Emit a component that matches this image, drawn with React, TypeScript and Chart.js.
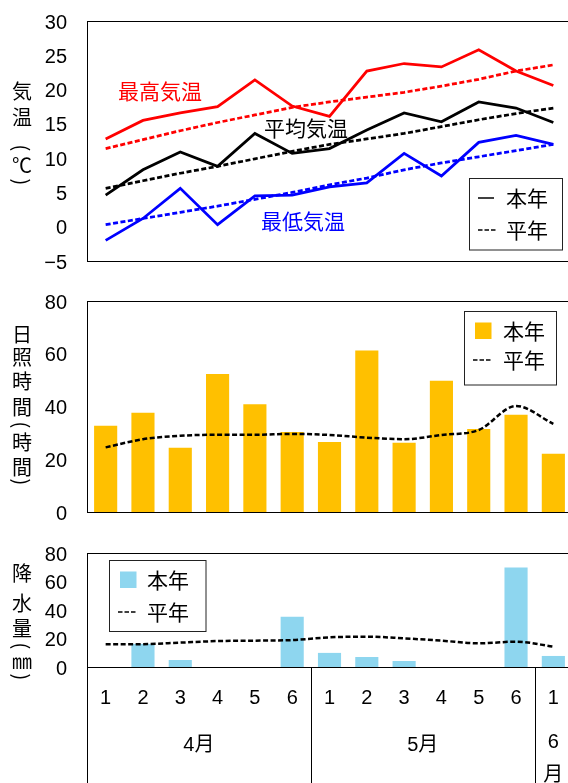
import React, { useEffect, useRef } from 'react';
import { Chart, registerables } from 'chart.js';
Chart.register(...registerables);

// ---------- data ----------
const categories = ['1', '2', '3', '4', '5', '6', '1', '2', '3', '4', '5', '6', '1'];
const months = ['4月', '5月', '6月'];
const monthSpans = [6, 6, 1];
const legendLabels = ['本年', '平年'];
const seriesLabels = ['最高気温', '平均気温', '最低気温'];
const tempTitle = ['気', '温', '(', '℃', ')'];
const sunTitle = ['日', '照', '時', '間', '(', '時', '間', ')'];
const rainTitle = ['降', '水', '量', '(', '㎜', ')'];

const maxTemp = [12.8, 15.5, 16.6, 17.5, 21.4, 17.6, 16.1, 22.7, 23.8, 23.3, 25.8, 22.7, 20.6];
const maxNormal = [11.4, 12.7, 14.0, 15.2, 16.3, 17.4, 18.2, 18.9, 19.6, 20.5, 21.5, 22.7, 23.6];
const meanTemp = [4.6, 8.3, 10.9, 8.8, 13.6, 10.7, 11.4, 14.1, 16.6, 15.3, 18.2, 17.3, 15.2];
const meanNormal = [5.6, 6.7, 7.8, 8.8, 9.9, 11.0, 12.0, 12.8, 13.6, 14.6, 15.6, 16.5, 17.3];
const minTemp = [-2.0, 1.2, 5.6, 0.3, 4.5, 4.6, 5.8, 6.4, 10.7, 7.4, 12.3, 13.3, 12.0];
const minNormal = [0.3, 1.2, 2.1, 3.0, 4.0, 5.0, 6.1, 7.1, 8.3, 9.3, 10.2, 11.1, 12.0];

const sunshine = [32.7, 37.6, 24.4, 52.3, 40.9, 30.3, 26.5, 61.2, 26.3, 49.8, 31.5, 36.9, 22.1];
const sunNormal = [24.5, 27.6, 28.9, 29.3, 29.3, 29.6, 29.2, 28.2, 27.6, 29.2, 31.1, 40.2, 33.4];

const precip = [0, 16.2, 4.9, 0, 0, 35.2, 9.9, 7.0, 4.2, 0, 0, 69.8, 7.75];
const precipNormal = [15.9, 16.0, 17.1, 18.2, 18.5, 18.9, 20.8, 21.3, 20.1, 18.5, 16.6, 17.8, 14.3];

// ---------- styling ----------
const CW = 572;
const AXIS_W = 87;
const DIGIT_FONT = "'Liberation Sans', 'Noto Sans CJK JP', sans-serif";
const CJK_FONT = "'Noto Sans CJK JP', sans-serif";
const GOLD = '#FFC000';
const SKY = '#8ED6EF';

type Row = { kind: 'line' | 'dash' | 'square'; y: number; sx: number; color?: string };
type Deco = {
  top: number;
  titleY: number[];
  title: string[];
  legend: { x: number; y: number; w: number; h: number; tx: number; rows: Row[] };
  texts?: { t: string; x: number; y: number; c: string }[];
  xaxis?: boolean;
};

function makeDeco(d: Deco) {
  return {
    id: 'deco',
    afterDatasetsDraw(chart: any) {
      const ctx: CanvasRenderingContext2D = chart.ctx;
      const a = chart.chartArea;
      const off = d.top;
      ctx.save();
      // frame
      ctx.strokeStyle = '#000';
      ctx.lineWidth = 1;
      ctx.setLineDash([]);
      ctx.strokeRect(Math.round(a.left) + 0.5, Math.round(a.top) + 0.5, Math.round(a.right - a.left), Math.round(a.bottom - a.top));
      // vertical title
      ctx.fillStyle = '#000';
      ctx.font = `20px ${CJK_FONT}`;
      ctx.textAlign = 'center';
      ctx.textBaseline = 'middle';
      d.title.forEach((ch, i) => {
        const y = d.titleY[i] - off;
        if (ch === '(' || ch === ')') {
          ctx.save();
          ctx.translate(22, y);
          ctx.rotate(Math.PI / 2);
          ctx.fillText(ch, 0, 0);
          ctx.restore();
        } else {
          ctx.fillText(ch, 22, y);
        }
      });
      // series labels
      if (d.texts) {
        ctx.font = `21px ${CJK_FONT}`;
        d.texts.forEach((t) => {
          ctx.fillStyle = t.c;
          ctx.fillText(t.t, t.x, t.y - off);
        });
      }
      // legend
      const L = d.legend;
      ctx.fillStyle = '#fff';
      ctx.fillRect(L.x, L.y - off, L.w, L.h);
      ctx.strokeStyle = '#222';
      ctx.lineWidth = 1;
      ctx.strokeRect(L.x, L.y - off, L.w, L.h);
      L.rows.forEach((r, i) => {
        const y = r.y - off;
        if (r.kind === 'square') {
          ctx.fillStyle = r.color || '#000';
          ctx.fillRect(r.sx, y - 8.5, 16.5, 16.5);
        } else if (r.kind === 'line') {
          ctx.strokeStyle = '#000';
          ctx.lineWidth = 1.5;
          ctx.beginPath();
          ctx.moveTo(r.sx, y);
          ctx.lineTo(r.sx + 16, y);
          ctx.stroke();
        } else {
          ctx.strokeStyle = '#000';
          ctx.lineWidth = 1.5;
          for (let k = 0; k < 3; k++) {
            ctx.beginPath();
            ctx.moveTo(r.sx + k * 6.5, y);
            ctx.lineTo(r.sx + k * 6.5 + 4.5, y);
            ctx.stroke();
          }
        }
        ctx.fillStyle = '#000';
        ctx.font = `21px ${CJK_FONT}`;
        ctx.textAlign = 'left';
        ctx.fillText(legendLabels[i], L.tx, y);
      });
      // category axis
      if (d.xaxis) {
        const xs = chart.scales.x;
        const half = (xs.getPixelForValue(1) - xs.getPixelForValue(0)) / 2;
        const bottom = chart.height;
        ctx.textAlign = 'center';
        ctx.fillStyle = '#000';
        ctx.font = `20px ${DIGIT_FONT}`;
        categories.forEach((c, i) => ctx.fillText(c, xs.getPixelForValue(i), 698 - off));
        ctx.strokeStyle = '#000';
        ctx.lineWidth = 1;
        const vline = (x: number) => {
          const px = Math.round(x) + 0.5;
          ctx.beginPath();
          ctx.moveTo(px, a.bottom);
          ctx.lineTo(px, bottom);
          ctx.stroke();
        };
        vline(a.left);
        let idx = 0;
        months.forEach((m, k) => {
          const s = idx;
          const e = idx + monthSpans[k] - 1;
          const xl = xs.getPixelForValue(s) - half;
          const xr = xs.getPixelForValue(e) + half;
          vline(xr);
          ctx.font = `20px ${DIGIT_FONT}`;
          if (monthSpans[k] > 1) {
            ctx.fillText(m, (xl + xr) / 2, 745 - off);
          } else {
            const chars = Array.from(m);
            chars.forEach((ch, j) => ctx.fillText(ch, (xl + xr) / 2, 742 - off + j * 33));
          }
          idx += monthSpans[k];
        });
      }
      ctx.restore();
    },
  };
}

function yAxis(min: number, max: number, step: number) {
  return {
    min,
    max,
    grid: { display: false, drawTicks: false },
    border: { display: false },
    ticks: {
      stepSize: step,
      padding: 20,
      labelOffset: 2,
      color: '#000',
      font: { family: DIGIT_FONT, size: 20 },
      callback: (v: any) => String(v).replace('-', '−'),
    },
    afterFit(s: any) {
      s.width = AXIS_W;
      s.paddingTop = 0;
      s.paddingBottom = 0;
    },
  };
}

const baseOpts = (pad: { top: number; bottom: number }) => ({
  animation: false as const,
  responsive: false,
  maintainAspectRatio: false,
  layout: { padding: { top: pad.top, bottom: pad.bottom, left: 0, right: 0 } },
  plugins: { legend: { display: false }, tooltip: { enabled: false } },
  elements: { point: { radius: 0 } },
});

export default function App() {
  const r1 = useRef<HTMLCanvasElement>(null);
  const r2 = useRef<HTMLCanvasElement>(null);
  const r3 = useRef<HTMLCanvasElement>(null);

  useEffect(() => {
    const line = (data: number[], color: string, dashed: boolean) => ({
      data,
      borderColor: color,
      borderWidth: 2.75,
      borderDash: dashed ? [5, 2.5] : [],
      pointRadius: 0,
      tension: 0,
      fill: false,
    });

    const c1 = new Chart(r1.current!, {
      type: 'line',
      data: {
        labels: categories,
        datasets: [
          line(maxNormal, '#FF0000', true),
          line(meanNormal, '#000000', true),
          line(minNormal, '#0000FF', true),
          line(maxTemp, '#FF0000', false),
          line(meanTemp, '#000000', false),
          line(minTemp, '#0000FF', false),
        ] as any,
      },
      options: {
        ...baseOpts({ top: 21, bottom: 19 }),
        scales: {
          x: { type: 'category', offset: true, display: false },
          y: yAxis(-5, 30, 5) as any,
        },
      } as any,
      plugins: [
        makeDeco({
          top: 0,
          title: tempTitle,
          titleY: [91, 117, 148, 165, 182],
          texts: [
            { t: seriesLabels[0], x: 160, y: 91, c: '#FF0000' },
            { t: seriesLabels[1], x: 306, y: 128, c: '#000000' },
            { t: seriesLabels[2], x: 303, y: 221, c: '#0000FF' },
          ],
          legend: {
            x: 469.5, y: 178.5, w: 93, h: 71.5, tx: 506,
            rows: [
              { kind: 'line', y: 198, sx: 478 },
              { kind: 'dash', y: 230, sx: 478 },
            ],
          },
        }) as any,
      ],
    });

    const barSet = (data: number[], color: string) => ({
      type: 'bar',
      data,
      backgroundColor: color,
      borderWidth: 0,
      barPercentage: 0.62,
      categoryPercentage: 1,
      order: 1,
    });
    const normSet = (data: number[]) => ({
      type: 'line',
      data,
      borderColor: '#000',
      borderWidth: 2.5,
      borderDash: [5, 2.5],
      pointRadius: 0,
      cubicInterpolationMode: 'monotone',
      fill: false,
      order: 0,
    });

    const c2 = new Chart(r2.current!, {
      type: 'bar',
      data: { labels: categories, datasets: [barSet(sunshine, GOLD), normSet(sunNormal)] as any },
      options: {
        ...baseOpts({ top: 21, bottom: 18 }),
        scales: {
          x: { type: 'category', offset: true, display: false },
          y: yAxis(0, 80, 20) as any,
        },
      } as any,
      plugins: [
        makeDeco({
          top: 280,
          title: sunTitle,
          titleY: [334, 357, 381, 407, 425, 442, 467, 482],
          legend: {
            x: 464.5, y: 311.5, w: 92, h: 73.5, tx: 503,
            rows: [
              { kind: 'square', y: 331, sx: 475, color: GOLD },
              { kind: 'dash', y: 360, sx: 473 },
            ],
          },
        }) as any,
      ],
    });

    const c3 = new Chart(r3.current!, {
      type: 'bar',
      data: { labels: categories, datasets: [barSet(precip, SKY), normSet(precipNormal)] as any },
      options: {
        ...baseOpts({ top: 23, bottom: 116 }),
        scales: {
          x: { type: 'category', offset: true, display: false },
          y: yAxis(0, 80, 20) as any,
        },
      } as any,
      plugins: [
        makeDeco({
          top: 530,
          title: rainTitle,
          titleY: [573, 603, 628, 646, 661, 677],
          xaxis: true,
          legend: {
            x: 109.5, y: 560.5, w: 96.5, h: 71, tx: 147,
            rows: [
              { kind: 'square', y: 580, sx: 120, color: SKY },
              { kind: 'dash', y: 612, sx: 118 },
            ],
          },
        }) as any,
      ],
    });

    return () => {
      c1.destroy();
      c2.destroy();
      c3.destroy();
    };
  }, []);

  return (
    <div style={{ position: 'absolute', left: 0, top: 0, width: 568, height: 783, overflow: 'hidden', background: '#fff' }}>
      <canvas ref={r1} width={CW} height={280} style={{ position: 'absolute', left: 0, top: 0 }} />
      <canvas ref={r2} width={CW} height={250} style={{ position: 'absolute', left: 0, top: 280 }} />
      <canvas ref={r3} width={CW} height={253} style={{ position: 'absolute', left: 0, top: 530 }} />
    </div>
  );
}
